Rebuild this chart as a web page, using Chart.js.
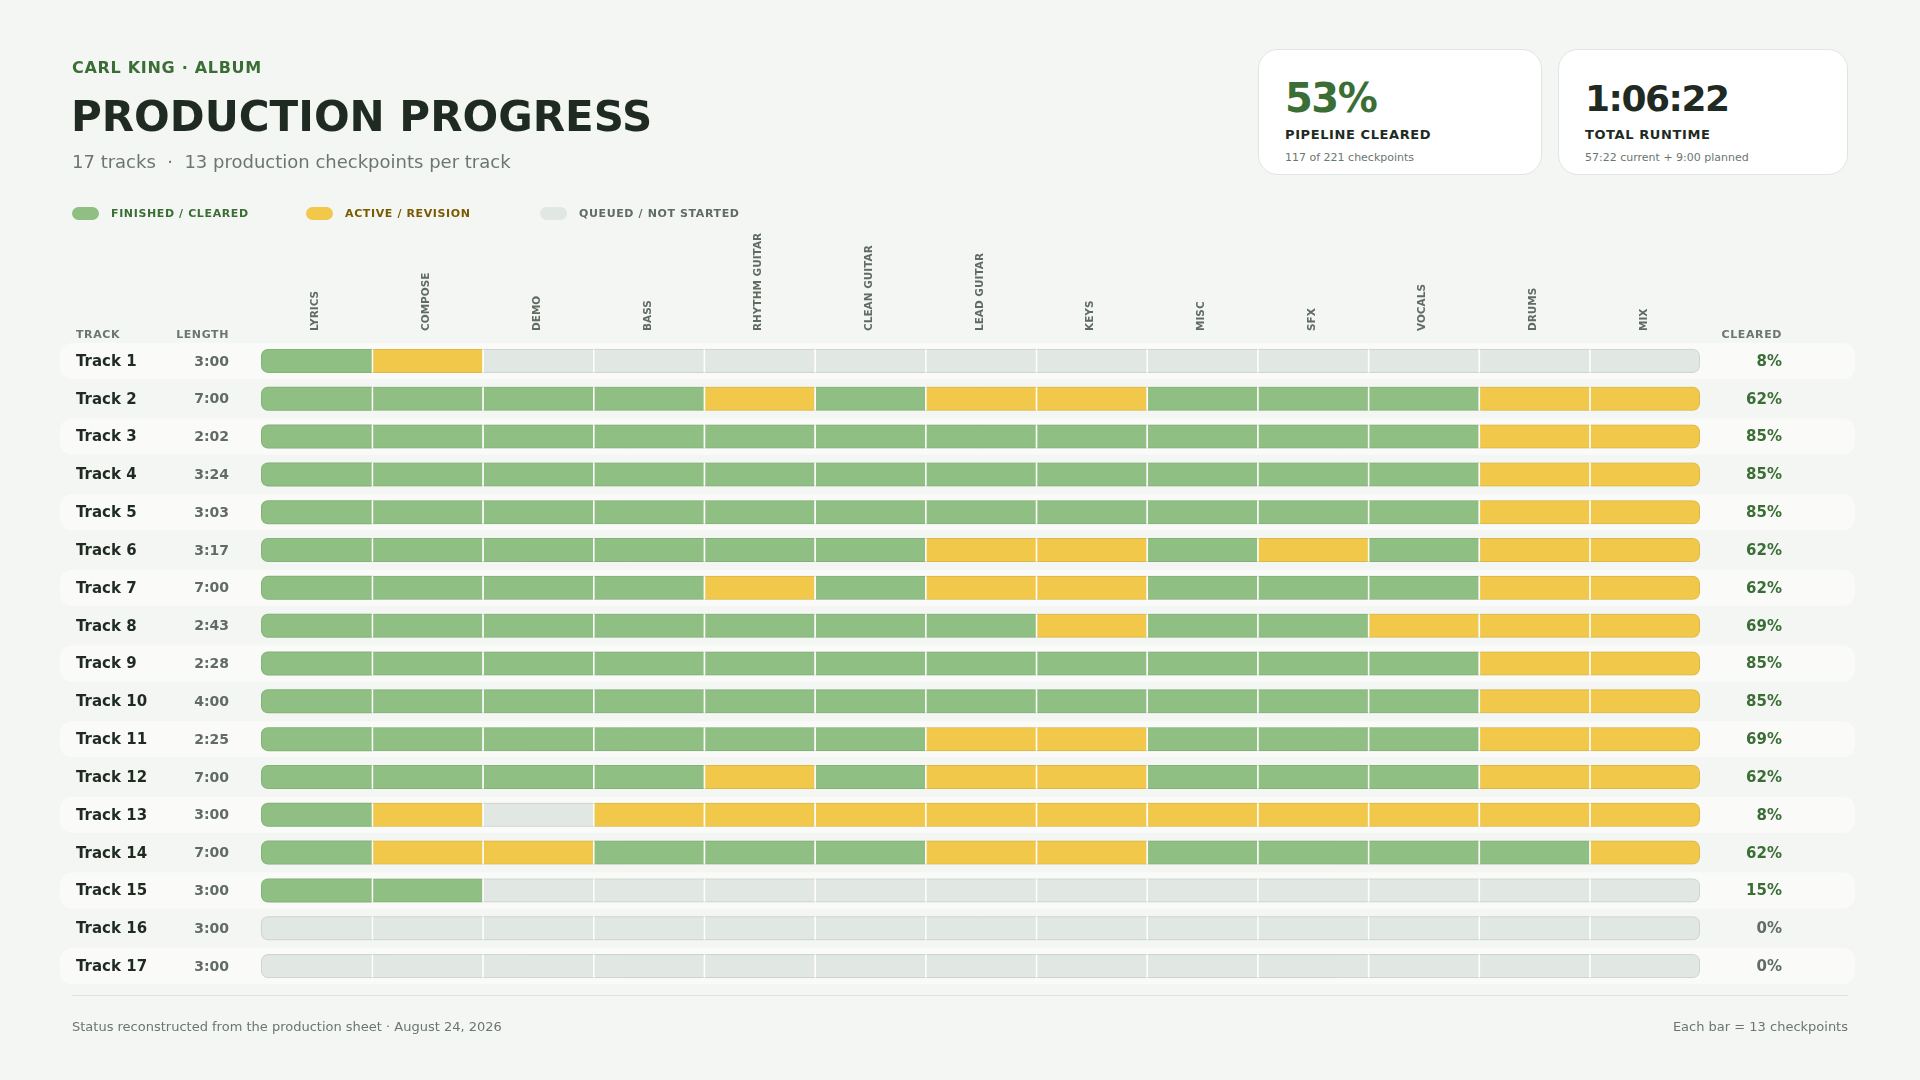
<!DOCTYPE html>
<html lang="en">
<head>
<meta charset="utf-8">
<title>Production Progress</title>
<script src="https://cdn.jsdelivr.net/npm/chart.js@4.4.1/dist/chart.umd.min.js"></script>
<style>
html, body { margin: 0; padding: 0; background: #f4f6f3; }
body { position: relative; width: 1920px; height: 1080px; overflow: hidden; font-family: "DejaVu Sans", sans-serif; color: #1e2a22; }
#board { position: absolute; left: 0; top: 0; }
.t { position: absolute; white-space: nowrap; line-height: 1; }
.kicker { left: 72px; top: 60px; font-size: 16px; font-weight: bold; color: #3b6e35; letter-spacing: 0.7px; }
.title { left: 71px; top: 96px; font-size: 42px; font-weight: bold; color: #1e2a22; }
.sub { left: 72px; top: 153px; font-size: 18px; color: #6b766f; }
.card { position: absolute; top: 49px; height: 126px; background: #fff; border: 1px solid #dfe5e0; border-radius: 20px; box-sizing: border-box; }
.card .big { position: absolute; left: 26px; top: 28px; font-size: 40px; font-weight: bold; line-height: 1; letter-spacing: -1.5px; }
.card .lab { position: absolute; left: 26px; top: 78px; font-size: 13px; font-weight: bold; letter-spacing: 0.6px; line-height: 1; color: #1e2a22; }
.card .note { position: absolute; left: 26px; top: 102px; font-size: 11px; color: #6b766f; line-height: 1; }
.pill { position: absolute; top: 207px; width: 27px; height: 13px; border-radius: 7px; }
.lt { top: 208px; font-size: 11px; font-weight: bold; letter-spacing: 0.62px; }
.rule { position: absolute; left: 72px; top: 995px; width: 1776px; height: 1px; background: #dde3de; }
.foot { top: 1020px; font-size: 13px; color: #6b766f; }
</style>
</head>
<body>
<canvas id="board" width="1920" height="1080"></canvas>

<div class="t kicker">CARL KING · ALBUM</div>
<div class="t title">PRODUCTION PROGRESS</div>
<div class="t sub">17 tracks &nbsp;·&nbsp; 13 production checkpoints per track</div>

<div class="card" style="left:1258px; width:284px;">
  <div class="big" style="color:#3b6e35;">53%</div>
  <div class="lab">PIPELINE CLEARED</div>
  <div class="note">117 of 221 checkpoints</div>
</div>
<div class="card" style="left:1558px; width:290px;">
  <div class="big" style="color:#1e2a22; font-size:36px; top:31px;">1:06:22</div>
  <div class="lab">TOTAL RUNTIME</div>
  <div class="note">57:22 current + 9:00 planned</div>
</div>

<div class="pill" style="left:72px; background:#8fbf82;"></div>
<div class="t lt" style="left:111px; color:#3b6e35;">FINISHED / CLEARED</div>
<div class="pill" style="left:306px; background:#f2c84b;"></div>
<div class="t lt" style="left:345px; color:#7a5a00;">ACTIVE / REVISION</div>
<div class="pill" style="left:540px; background:#e1e7e3;"></div>
<div class="t lt" style="left:579px; color:#5f6b63;">QUEUED / NOT STARTED</div>

<div class="rule"></div>
<div class="t foot" style="left:72px;">Status reconstructed from the production sheet · August 24, 2026</div>
<div class="t foot" style="right:72px;">Each bar = 13 checkpoints</div>

<script>
const CHECKPOINTS = ['LYRICS', 'COMPOSE', 'DEMO', 'BASS', 'RHYTHM GUITAR', 'CLEAN GUITAR', 'LEAD GUITAR',
    'KEYS', 'MISC', 'SFX', 'VOCALS', 'DRUMS', 'MIX'];
const TRACKS = ['Track 1', 'Track 2', 'Track 3', 'Track 4', 'Track 5', 'Track 6', 'Track 7', 'Track 8', 'Track 9',
    'Track 10', 'Track 11', 'Track 12', 'Track 13', 'Track 14', 'Track 15', 'Track 16', 'Track 17'];
const LENGTHS = ['3:00', '7:00', '2:02', '3:24', '3:03', '3:17', '7:00', '2:43', '2:28',
    '4:00', '2:25', '7:00', '3:00', '7:00', '3:00', '3:00', '3:00'];
// 2 = finished / cleared, 1 = active / revision, 0 = queued / not started
const STATUS = [
    [2, 1, 0, 0, 0, 0, 0, 0, 0, 0, 0, 0, 0],
    [2, 2, 2, 2, 1, 2, 1, 1, 2, 2, 2, 1, 1],
    [2, 2, 2, 2, 2, 2, 2, 2, 2, 2, 2, 1, 1],
    [2, 2, 2, 2, 2, 2, 2, 2, 2, 2, 2, 1, 1],
    [2, 2, 2, 2, 2, 2, 2, 2, 2, 2, 2, 1, 1],
    [2, 2, 2, 2, 2, 2, 1, 1, 2, 1, 2, 1, 1],
    [2, 2, 2, 2, 1, 2, 1, 1, 2, 2, 2, 1, 1],
    [2, 2, 2, 2, 2, 2, 2, 1, 2, 2, 1, 1, 1],
    [2, 2, 2, 2, 2, 2, 2, 2, 2, 2, 2, 1, 1],
    [2, 2, 2, 2, 2, 2, 2, 2, 2, 2, 2, 1, 1],
    [2, 2, 2, 2, 2, 2, 1, 1, 2, 2, 2, 1, 1],
    [2, 2, 2, 2, 1, 2, 1, 1, 2, 2, 2, 1, 1],
    [2, 1, 0, 1, 1, 1, 1, 1, 1, 1, 1, 1, 1],
    [2, 1, 1, 2, 2, 2, 1, 1, 2, 2, 2, 2, 1],
    [2, 2, 0, 0, 0, 0, 0, 0, 0, 0, 0, 0, 0],
    [0, 0, 0, 0, 0, 0, 0, 0, 0, 0, 0, 0, 0],
    [0, 0, 0, 0, 0, 0, 0, 0, 0, 0, 0, 0, 0]
];

const COLORS = ['#e1e7e3', '#f2c84b', '#8fbf82'];
const FONT = '"DejaVu Sans", sans-serif';

function cleared_pct(row) {
    const done = row.filter(s => s === 2).length;
    return Math.round(done / row.length * 100);
}

const table_plugin = {
    id: 'table',
    beforeDatasetsDraw(chart) {
        const {ctx, scales: {y}} = chart;
        ctx.save();
        ctx.fillStyle = '#fafbf9';
        TRACKS.forEach((t, i) => {
            if (i % 2) return;
            const cy = y.getPixelForValue(i);
            ctx.beginPath();
            ctx.roundRect(60, cy - 18, 1795, 36, 12);
            ctx.fill();
        });
        ctx.restore();
    },
    afterDatasetsDraw(chart) {
        const {ctx, scales: {x, y}} = chart;
        const x0 = x.getPixelForValue(0);
        const x1 = x.getPixelForValue(CHECKPOINTS.length);
        ctx.save();
        ctx.strokeStyle = 'rgba(60, 85, 65, 0.12)';
        ctx.lineWidth = 1;
        TRACKS.forEach((t, i) => {
            const cy = y.getPixelForValue(i);
            ctx.beginPath();
            ctx.roundRect(x0 + 0.5, cy - 11.5, x1 - x0 - 1, 23, 6.5);
            ctx.stroke();
        });
        ctx.restore();
    },
    afterDraw(chart) {
        const {ctx, scales: {y}, chartArea} = chart;
        ctx.save();
        ctx.textBaseline = 'middle';

        // column headers
        ctx.font = 'bold 11px ' + FONT;
        ctx.fillStyle = '#6b766f';
        ctx.letterSpacing = '0.6px';
        const hy = chartArea.top - 7;
        ctx.textAlign = 'left';
        ctx.fillText('TRACK', 76, hy);
        ctx.textAlign = 'right';
        ctx.fillText('LENGTH', 229, hy);
        ctx.fillText('CLEARED', 1782, hy);
        ctx.letterSpacing = '0px';

        TRACKS.forEach((name, i) => {
            const cy = y.getPixelForValue(i) + 1;
            ctx.font = 'bold 15px ' + FONT;
            ctx.fillStyle = '#1e2a22';
            ctx.textAlign = 'left';
            ctx.fillText(name, 76, cy);

            ctx.font = 'bold 14px ' + FONT;
            ctx.fillStyle = '#5f6b63';
            ctx.textAlign = 'right';
            ctx.fillText(LENGTHS[i], 229, cy);

            const pct = cleared_pct(STATUS[i]);
            ctx.font = 'bold 15px ' + FONT;
            ctx.fillStyle = pct > 0 ? '#3b6e35' : '#5f6b63';
            ctx.fillText(pct + '%', 1782, cy);
        });
        ctx.restore();
    }
};

function generate_board() {
    const ctx = document.getElementById('board').getContext('2d');
    const last = CHECKPOINTS.length - 1;
    const datasets = CHECKPOINTS.map((name, c) => ({
        label: name,
        data: TRACKS.map(() => 1),
        backgroundColor: STATUS.map(row => COLORS[row[c]]),
        borderColor: '#ffffff',
        borderWidth: c === 0 ? 0 : {top: 0, right: 0, bottom: 0, left: 1.5},
        borderSkipped: false,
        borderRadius: c === 0 ? {topLeft: 7, bottomLeft: 7} : (c === last ? {topRight: 7, bottomRight: 7} : 0),
        barThickness: 24,
        inflateAmount: 0
    }));

    const myChart = new Chart(ctx, {
        type: 'bar',
        data: {
            labels: TRACKS,
            datasets: datasets
        },
        options: {
            indexAxis: 'y',
            responsive: false,
            animation: false,
            layout: {padding: {left: 261, right: 220, top: 232, bottom: 95}},
            plugins: {
                legend: {display: false},
                tooltip: {enabled: false}
            },
            scales: {
                x: {type: 'linear', stacked: true, min: 0, max: CHECKPOINTS.length, display: false},
                x2: {
                    type: 'category',
                    position: 'top',
                    labels: CHECKPOINTS,
                    offset: true,
                    grid: {display: false, drawTicks: false},
                    border: {display: false},
                    ticks: {
                        autoSkip: false,
                        minRotation: 90,
                        maxRotation: 90,
                        padding: 11,
                        labelOffset: 12,
                        color: '#5f6b63',
                        font: {family: 'DejaVu Sans', size: 10.5, weight: 'bold'}
                    },
                    afterFit(scale) { scale.height = 110; }
                },
                y: {type: 'category', stacked: true, display: false}
            }
        },
        plugins: [table_plugin]
    });
}

generate_board();
</script>
</body>
</html>
